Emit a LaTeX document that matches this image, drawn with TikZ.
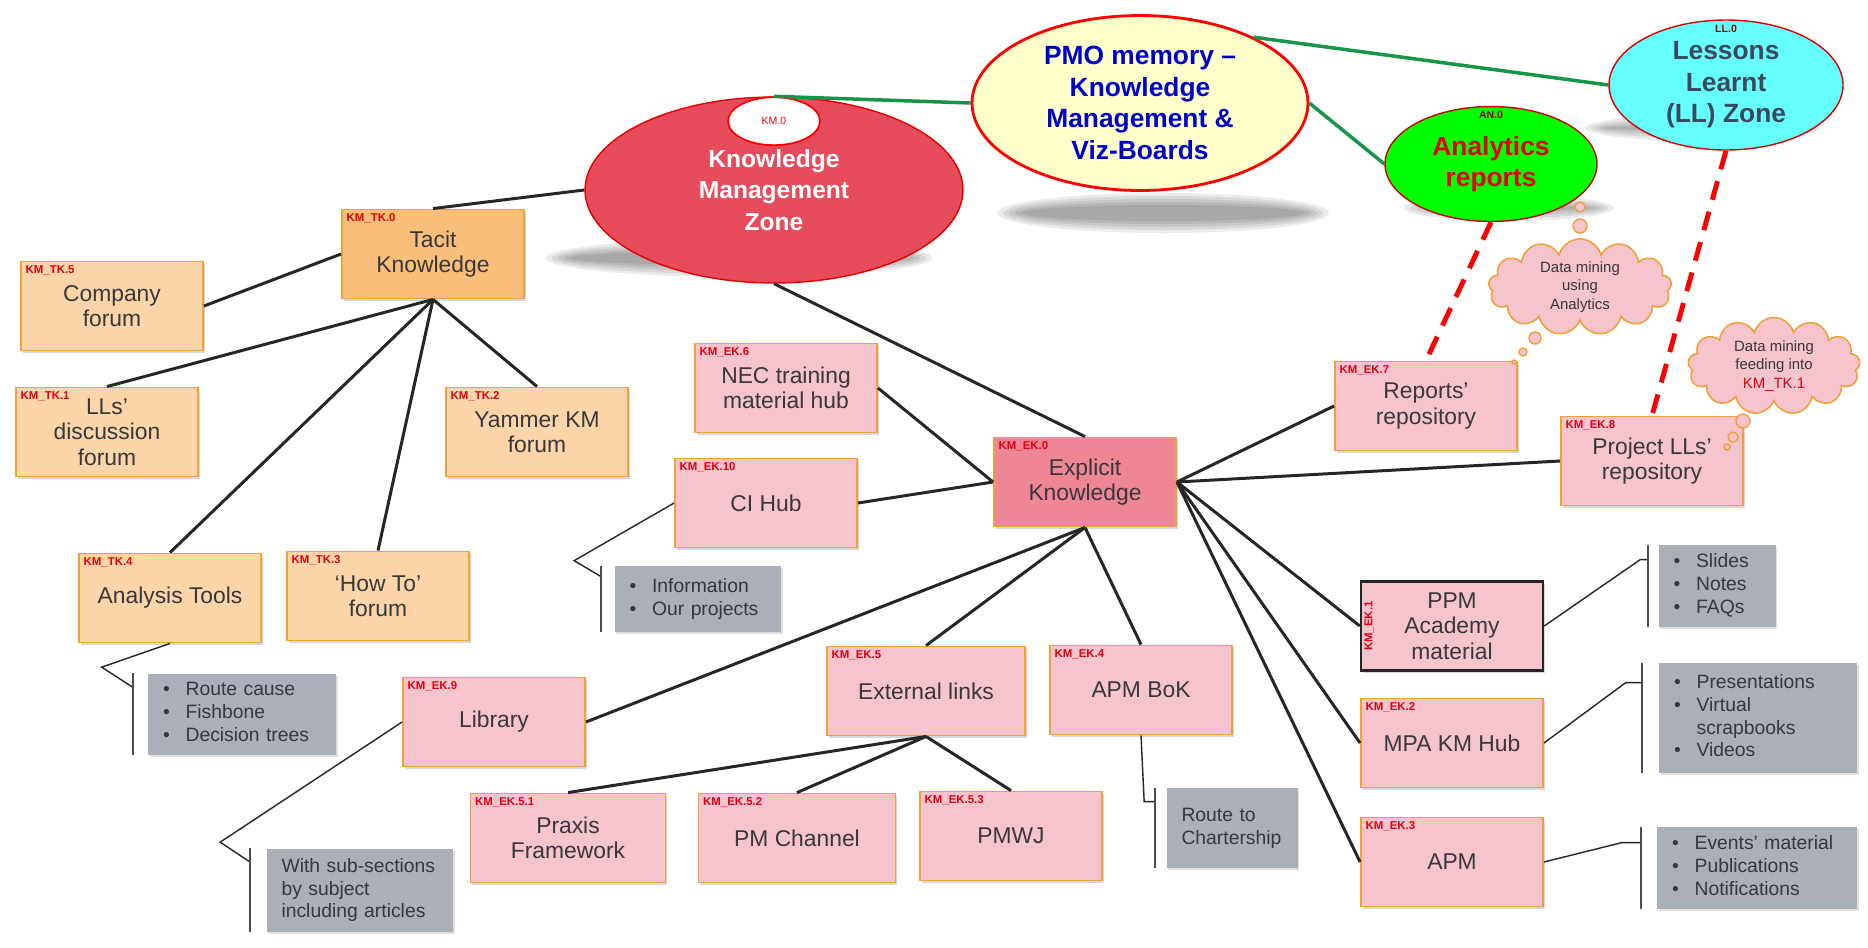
\documentclass[tikz,border=0pt]{standalone}
\usepackage{fontspec}
\setmainfont{Liberation Sans}
\usepackage{tikz}
\usetikzlibrary{shapes.geometric,shapes.symbols,shadows,calc}
\definecolor{tkDeep}   {RGB}{249,190,122}
\definecolor{tkPale}   {RGB}{252,214,168}
\definecolor{ekDeep}   {RGB}{239,134,149}
\definecolor{ekPale}   {RGB}{246,196,204}
\definecolor{boxEdge}  {RGB}{241,160,58}
\definecolor{noteGrey} {RGB}{171,175,183}
\definecolor{inkGrey}  {RGB}{55,55,60}
\definecolor{idRed}    {RGB}{228,0,18}
\definecolor{zoneRed}  {RGB}{231,76,92}
\definecolor{pmoYellow}{RGB}{255,255,204}
\definecolor{llCyan}   {RGB}{102,255,255}
\definecolor{anGreen}  {RGB}{0,255,0}
\definecolor{linkGreen}{RGB}{24,150,72}
\definecolor{pmoBlue}  {RGB}{0,0,204}
\definecolor{llInk}    {RGB}{62,72,92}

\newcommand{\blist}[1]{\begin{tabular}{@{}l@{\hspace{9pt}}l@{}}#1\end{tabular}}

\tikzset{
  kbox/.style={rectangle,draw=boxEdge,line width=1.1pt,minimum width=3.64cm,
    minimum height=1.78cm,align=center,text=inkGrey,inner sep=2pt,
    font=\fontsize{13}{14.5}\selectfont,
    drop shadow={shadow xshift=1pt,shadow yshift=-1.3pt,opacity=0.3}},
  idtag/.style={label={[anchor=north west,inner xsep=3pt,inner ysep=2.5pt,text=idRed,
    font=\fontsize{6.5}{7}\selectfont\bfseries]north west:#1}},
  note/.style={rectangle,fill=noteGrey,text=inkGrey,align=left,inner xsep=0.3cm,
    inner ysep=2pt,font=\fontsize{11}{13}\selectfont,
    drop shadow={shadow xshift=1pt,shadow yshift=-1.3pt,opacity=0.25}},
  zone/.style={ellipse,align=center,inner sep=0pt},
  thought/.style={cloud,cloud puffs=13,aspect=2,fill=ekPale,draw=boxEdge,line width=0.9pt,
    align=center,inner sep=0pt,text=inkGrey,font=\fontsize{8.5}{10.5}\selectfont},
  bubble/.style={fill=ekPale,draw=boxEdge,line width=0.8pt},
  link/.style={line width=1.7pt,black!85},
  zlink/.style={line width=2pt,linkGreen},
  dlink/.style={line width=2.8pt,red,dash pattern=on 11pt off 7pt},
  brk/.style={line width=0.8pt,black!85},
  bar/.style={line width=1.1pt,black!70}
}

\begin{document}
\begin{tikzpicture}[x=0.02cm,y=-0.02cm]

    \fill[white] (0,0) rectangle (1868,947);
    \useasboundingbox (0,0) rectangle (1868,947);

    % ── ZONES ──────────────────────────────────────────────
    \foreach \cx/\cy/\rx/\ry in {739/258/193/19, 1163/213/166/20, 1509/208/105/13, 1702/128/117/13}{
      \foreach \k in {0,...,4}
        \fill[black,opacity=0.08] (\cx,\cy) ellipse ({\rx-\k*6} and {\ry-\k*3});
    }
    \node[zone,fill=zoneRed,draw=red!90!black,line width=0.8pt,minimum width=7.56cm,
      minimum height=3.72cm,text=white,font=\fontsize{14}{18}\selectfont\bfseries]
      (KMZ) at (774,190) {Knowledge\\Management\\Zone};
    \node[zone,fill=white,draw=red,line width=1pt,minimum width=1.84cm,minimum height=0.96cm,
      anchor=north,text=idRed,font=\fontsize{6}{7}\selectfont] (KM0) at (KMZ.north) {KM.0};
    \node[zone,fill=pmoYellow,draw=red,line width=1.6pt,minimum width=6.72cm,minimum height=3.5cm,
      text=pmoBlue,font=\fontsize{15}{18}\selectfont\bfseries]
      (PMO) at (1140,103) {PMO memory –\\Knowledge\\Management \&\\Viz-Boards};
    \node[zone,fill=anGreen,draw=red!80!black,line width=0.8pt,minimum width=4.24cm,
      minimum height=2.3cm,text=idRed,font=\fontsize{15}{18}\selectfont\bfseries,
      label={[anchor=north,inner sep=3pt,text=red!60!black,font=\fontsize{6}{7}\selectfont\bfseries]north:AN.0}]
      (AN) at (1491,164) {Analytics\\reports};
    \node[zone,fill=llCyan,draw=red!85!black,line width=0.8pt,minimum width=4.68cm,
      minimum height=2.6cm,text=llInk,font=\fontsize{15}{18}\selectfont\bfseries,
      label={[anchor=north,inner sep=3pt,text=red!60!black,font=\fontsize{6}{7}\selectfont\bfseries]north:LL.0}]
      (LL) at (1726,85) {Lessons\\Learnt\\(LL) Zone};

    % ── TACIT KNOWLEDGE ────────────────────────────────────
    \node[kbox,fill=tkDeep,idtag=KM\_TK.0] (TK0) at (433,254) {Tacit\\Knowledge};
    \node[kbox,fill=tkPale,idtag=KM\_TK.5] (TK5) at (112,306) {Company\\forum};
    \node[kbox,fill=tkPale,idtag=KM\_TK.1] (TK1) at (107,432) {LLs’\\discussion\\forum};
    \node[kbox,fill=tkPale,idtag=KM\_TK.2] (TK2) at (537,432) {Yammer KM\\forum};
    \node[kbox,fill=tkPale,idtag=KM\_TK.4] (TK4) at (170,598) {Analysis Tools};
    \node[kbox,fill=tkPale,idtag=KM\_TK.3] (TK3) at (378,596) {‘How To’\\forum};

    % ── EXPLICIT KNOWLEDGE ─────────────────────────────────
    \node[kbox,fill=ekDeep,idtag=KM\_EK.0] (EK0) at (1085,482) {Explicit\\Knowledge};
    \node[kbox,fill=ekPale,idtag=KM\_EK.6] (EK6) at (786,388) {NEC training\\material hub};
    \node[kbox,fill=ekPale,idtag=KM\_EK.10] (EK10) at (766,503) {CI Hub};
    \node[kbox,fill=ekPale,idtag=KM\_EK.9] (EK9) at (494,722) {Library};
    \node[kbox,fill=ekPale,minimum width=3.96cm,idtag=KM\_EK.5] (EK5) at (926,691) {External links};
    \node[kbox,fill=ekPale,idtag=KM\_EK.4] (EK4) at (1141,690) {APM BoK};
    \node[kbox,fill=ekPale,minimum width=3.9cm,idtag=KM\_EK.5.1] (EK51) at (568,838) {Praxis\\Framework};
    \node[kbox,fill=ekPale,minimum width=3.94cm,idtag=KM\_EK.5.2] (EK52) at (797,838) {PM Channel};
    \node[kbox,fill=ekPale,idtag=KM\_EK.5.3] (EK53) at (1011,836) {PMWJ};
    \node[kbox,fill=ekPale,idtag=KM\_EK.7] (EK7) at (1426,406) {Reports’\\repository};
    \node[kbox,fill=ekPale,idtag=KM\_EK.8] (EK8) at (1652,461) {Project LLs’\\repository};
    \node[kbox,fill=ekPale,draw=black!85,line width=1.4pt,
      label={[rotate=90,anchor=north,inner sep=2.5pt,text=idRed,font=\fontsize{6.5}{7}\selectfont\bfseries]west:KM\_EK.1}]
      (EK1) at (1452,626) {PPM\\Academy\\material};
    \node[kbox,fill=ekPale,idtag=KM\_EK.2] (EK2) at (1452,743) {MPA KM Hub};
    \node[kbox,fill=ekPale,idtag=KM\_EK.3] (EK3) at (1452,862) {APM};

    % notes
    \node[note,text width=3.16cm,minimum height=1.62cm] (nTK4) at (242,714)
      {\blist{\textbullet&Route cause\\\textbullet&Fishbone\\\textbullet&Decision trees}};
    \node[note,text width=2.74cm,minimum height=1.32cm] (nEK10) at (698,599)
      {\blist{\textbullet&Information\\\textbullet&Our projects}};
    \node[note,text width=3.14cm,minimum height=1.66cm] (nEK9) at (360,890)
      {With sub-sections\\by subject\\including articles};
    \node[note,text width=2.02cm,minimum height=1.6cm] (nEK4) at (1232,828)
      {Route to\\Chartership};
    \node[note,text width=1.74cm,minimum height=1.64cm] (nEK1) at (1717,586)
      {\blist{\textbullet&Slides\\\textbullet&Notes\\\textbullet&FAQs}};
    \node[note,text width=3.36cm,minimum height=2.2cm] (nEK2) at (1758,718)
      {\blist{\textbullet&Presentations\\\textbullet&Virtual\\&scrapbooks\\\textbullet&Videos}};
    \node[note,text width=3.4cm,minimum height=1.64cm] (nEK3) at (1757,868)
      {\blist{\textbullet&Events’ material\\\textbullet&Publications\\\textbullet&Notifications}};

    % data mining clouds
    \node[thought,minimum width=3.66cm,minimum height=1.8cm] (DM1) at (1580,287)
      {Data mining\\using\\Analytics};
    \node[thought,minimum width=3.44cm,minimum height=1.94cm] (DM2) at (1774,366)
      {Data mining\\feeding into\\\textcolor{idRed}{KM\_TK.1}};
    \foreach \bx/\by/\br in {1580/207/5, 1580/226/7, 1535/338/6, 1523/352/4, 1514/362/2,
                             1743/421/7, 1733/437/5, 1727/447/3}
      \draw[bubble] (\bx,\by) circle[radius=\br];

    % ── CONNECTORS ─────────────────────────────────────────
    \draw[zlink] (KMZ.north) -- (PMO.west);
    \draw[zlink] (PMO.30) -- (LL.west);
    \draw[zlink] (PMO.east) -- (AN.west);
    \draw[dlink] (AN.south) -- (EK7.north);
    \draw[dlink] (LL.south) -- (EK8.north);

    \draw[link] (KMZ.west) -- (TK0.north);
    \draw[link] (TK0.west) -- (TK5.east);
    \foreach \t in {TK1,TK4,TK3,TK2}
      \draw[link] (TK0.south) -- (\t.north);

    \draw[link] (KMZ.south) -- (EK0.north);
    \foreach \e in {EK6,EK10}
      \draw[link] (\e.east) -- (EK0.west);
    \foreach \e in {EK7,EK8,EK1,EK2,EK3}
      \draw[link] (EK0.east) -- (\e.west);
    \draw[link] (EK0.south) -- (EK9.east);
    \foreach \e in {EK5,EK4}
      \draw[link] (EK0.south) -- (\e.north);
    \foreach \e in {EK51,EK52,EK53}
      \draw[link] (EK5.south) -- (\e.north);

    % brackets to the notes
    \draw[brk] (TK4.south) -- ($(nTK4.north west)+(-46,-6)$) -- ($(nTK4.north west)+(-15,14)$);
    \draw[bar] ($(nTK4.north west)+(-15,0)$) -- ($(nTK4.south west)+(-15,0)$);
    \draw[brk] (EK10.west) -- ($(nEK10.north west)+(-40,-5)$) -- ($(nEK10.north west)+(-13,11)$);
    \draw[bar] ($(nEK10.north west)+(-13,0)$) -- ($(nEK10.south west)+(-13,0)$);
    \draw[brk] (EK9.west) -- ($(nEK9.north west)+(-46,-6)$) -- ($(nEK9.north west)+(-16,14)$);
    \draw[bar] ($(nEK9.north west)+(-16,0)$) -- ($(nEK9.south west)+(-16,0)$);
    \draw[brk] (EK4.south) -- ($(nEK4.north west)+(-22,14)$) -- ($(nEK4.north west)+(-11,14)$);
    \draw[bar] ($(nEK4.north west)+(-11,0)$) -- ($(nEK4.south west)+(-11,0)$);
    \draw[brk] (EK1.east) -- ($(nEK1.north west)+(-18,15)$) -- ($(nEK1.north west)+(-10,15)$);
    \draw[bar] ($(nEK1.north west)+(-10,0)$) -- ($(nEK1.south west)+(-10,0)$);
    \draw[brk] (EK2.east) -- ($(nEK2.north west)+(-33,20)$) -- ($(nEK2.north west)+(-17,20)$);
    \draw[bar] ($(nEK2.north west)+(-17,0)$) -- ($(nEK2.south west)+(-17,0)$);
    \draw[brk] (EK3.east) -- ($(nEK3.north west)+(-35,16)$) -- ($(nEK3.north west)+(-16,16)$);
    \draw[bar] ($(nEK3.north west)+(-16,0)$) -- ($(nEK3.south west)+(-16,0)$);

\end{tikzpicture}
\end{document}
